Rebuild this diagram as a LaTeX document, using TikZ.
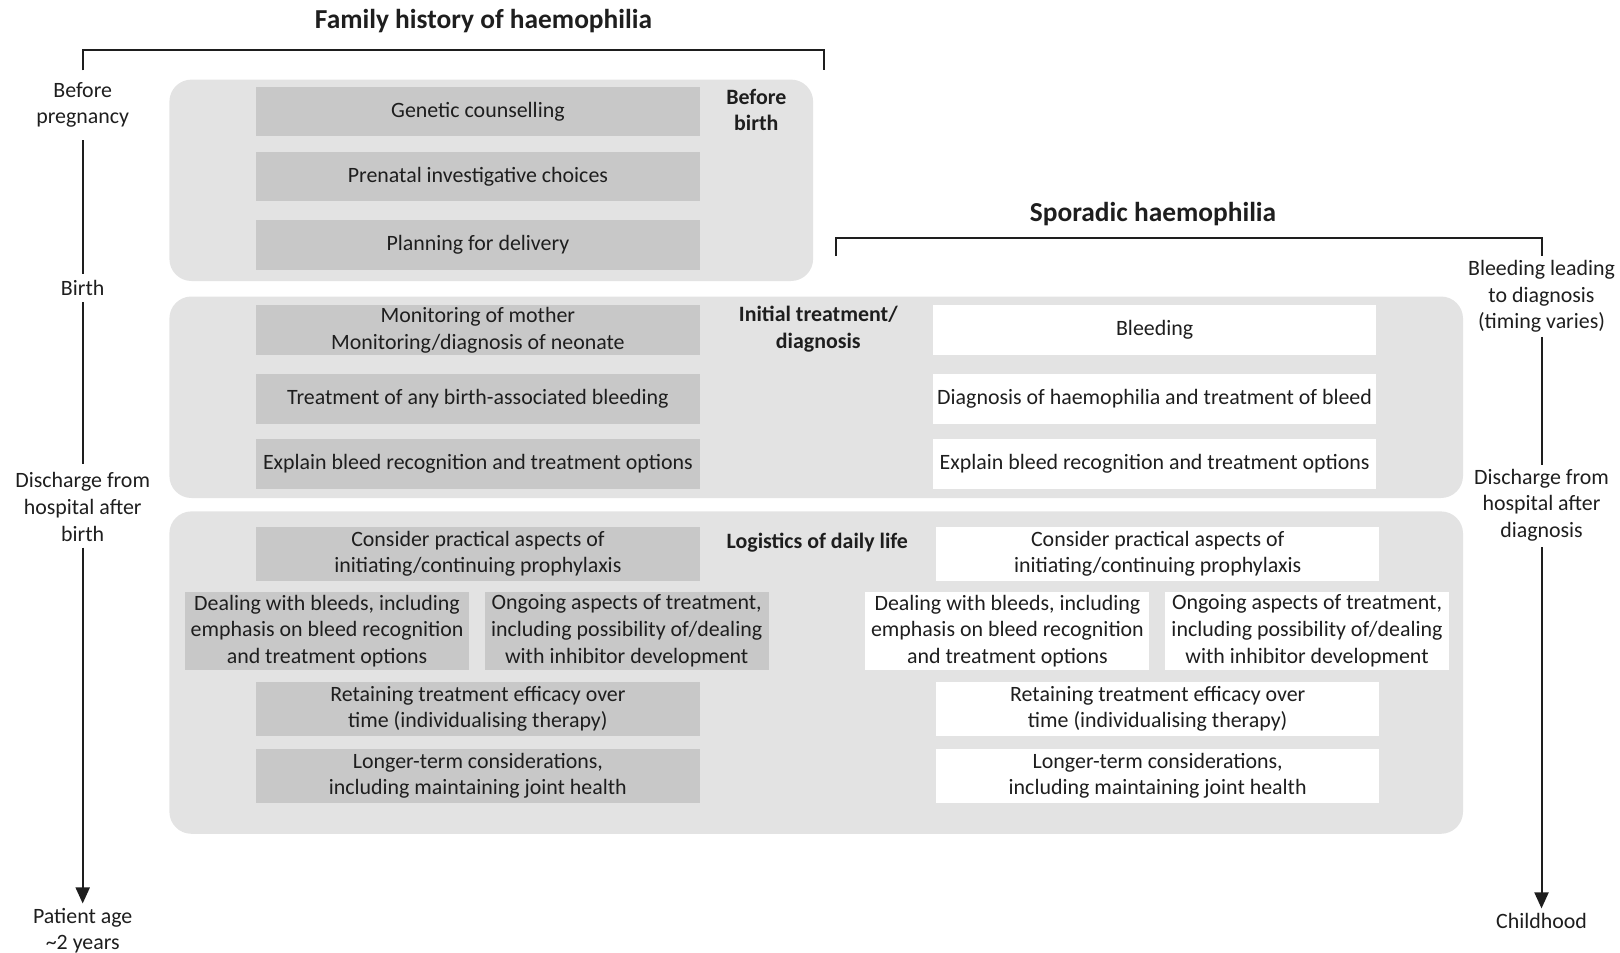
\documentclass[tikz,border=0pt]{standalone}
\usepackage{fontspec}
\setmainfont{Carlito}
\usetikzlibrary{arrows.meta}
\definecolor{panelgray}{RGB}{227,227,227}
\definecolor{boxgray}{RGB}{200,200,200}
\definecolor{inkgray}{RGB}{30,30,30}

\begin{document}
\begin{tikzpicture}[x=0.5pt, y=-0.5pt,
    every node/.style={font=\fontsize{10.95}{13.3}\selectfont, align=center, text=inkgray},
    heading/.style={font=\fontsize{13.7}{16}\selectfont\bfseries},
    section/.style={font=\fontsize{10.95}{13.3}\selectfont\bfseries},
    panel/.style={fill=panelgray, rounded corners=11pt},
    famstep/.style={fill=boxgray, minimum width=221.6pt, minimum height=24.8pt, inner sep=1pt},
    spostep/.style={famstep, fill=white},
    tallbox/.style={minimum height=26.9pt},
    halfbox/.style={minimum width=142pt, minimum height=38.7pt},
    tlabel/.style={inner sep=2pt},
    tline/.style={line width=1pt, draw=inkgray},
    tarrow/.style={tline, -{Triangle[width=7pt,length=8pt]}}]

    \useasboundingbox (0,0) rectangle (1620,952);

    % Headings and brackets
    \node[heading] (famtitle) at (483.5,21) {Family history of haemophilia};
    \node[heading] (spotitle) at (1153,214) {Sporadic haemophilia};
    \coordinate (famL) at (82.7,70.3);
    \coordinate (famR) at (823.5,70.3);
    \draw[tline] (famL) -- ++(0,-20.7) -| (famR);
    \coordinate (spoL) at (835.9,256.2);
    \coordinate (spoR) at (1541.5,256.2);
    \draw[tline] (spoL) -- ++(0,-18.6) -| (spoR);

    % Panels
    \path[panel] (169.4,79.6) rectangle (813.1,281);
    \path[panel] (169.4,296.5) rectangle (1463,498);
    \path[panel] (169.4,511.4) rectangle (1463,833.8);

    \node[section] (beforebirth) at (756.3,110) {Before\\birth};
    \node[section] (initial) at (818.3,329.4) {Initial treatment/\\diagnosis};
    \node[section] (logistics) at (817.3,542.4) {Logistics of daily life};

    % Family history column
    \node[famstep] (genetic) at (477.9,111.6) {Genetic counselling};
    \node[famstep] (prenatal) at (477.9,176.7) {Prenatal investigative choices};
    \node[famstep] (planning) at (477.9,244.9) {Planning for delivery};
    \node[famstep] (monitor) at (477.9,330.1) {Monitoring of mother\\Monitoring/diagnosis of neonate};
    \node[famstep] (famtreat) at (477.9,398.8) {Treatment of any birth-associated bleeding};
    \node[famstep] (famexplain) at (477.9,463.9) {Explain bleed recognition and treatment options};
    \node[famstep, tallbox] (famproph) at (477.9,553.8) {Consider practical aspects of\\initiating/continuing prophylaxis};
    \node[famstep, halfbox] (fambleeds) at (327,630.8) {Dealing with bleeds, including\\emphasis on bleed recognition\\and treatment options};
    \node[famstep, halfbox] (famongoing) at (626.7,630.8) {Ongoing aspects of treatment,\\including possibility of/dealing\\with inhibitor development};
    \node[famstep, tallbox] (famretain) at (477.9,708.8) {Retaining treatment efficacy over\\time (individualising therapy)};
    \node[famstep, tallbox] (famlonger) at (477.9,775.9) {Longer-term considerations,\\including maintaining joint health};

    % Sporadic column
    \node[spostep] (bleeding) at (1154.6,330.1) {Bleeding};
    \node[spostep] (diagnosis) at (1154.6,398.8) {Diagnosis of haemophilia and treatment of bleed};
    \node[spostep] (spoexplain) at (1154.6,463.9) {Explain bleed recognition and treatment options};
    \node[spostep, tallbox] (spoproph) at (1157.7,553.8) {Consider practical aspects of\\initiating/continuing prophylaxis};
    \node[spostep, halfbox] (spobleeds) at (1007.4,630.8) {Dealing with bleeds, including\\emphasis on bleed recognition\\and treatment options};
    \node[spostep, halfbox] (spoongoing) at (1307,630.8) {Ongoing aspects of treatment,\\including possibility of/dealing\\with inhibitor development};
    \node[spostep, tallbox] (sporetain) at (1157.7,708.8) {Retaining treatment efficacy over\\time (individualising therapy)};
    \node[spostep, tallbox] (spolonger) at (1157.7,775.9) {Longer-term considerations,\\including maintaining joint health};

    % Timelines
    \node[tlabel] (famt0) at (82.7,105) {Before\\pregnancy};
    \node[tlabel] (famt1) at (82.7,288) {Birth};
    \node[tlabel] (famt2) at (82.7,507) {Discharge from\\hospital after\\birth};
    \node[tlabel] (famt3) at (82.7,930.5) {Patient age\\\textasciitilde2 years};
    \draw[tline, shorten <=4pt, shorten >=1pt] (famt0) -- (famt1);
    \draw[tline, shorten <=1pt, shorten >=2pt] (famt1) -- (famt2);
    \draw[tarrow, shorten <=1pt] (famt2) -- (famt3);

    \node[tlabel] (spot0) at (1541.5,296.5) {Bleeding leading\\to diagnosis\\(timing varies)};
    \node[tlabel] (spot1) at (1541.5,505) {Discharge from\\hospital after\\diagnosis};
    \node[tlabel] (spot2) at (1541.5,920.5) {Childhood};
    \draw[tline] (spot0) -- (spot1);
    \draw[tarrow, shorten <=1pt] (spot1) -- (spot2);
\end{tikzpicture}
\end{document}
